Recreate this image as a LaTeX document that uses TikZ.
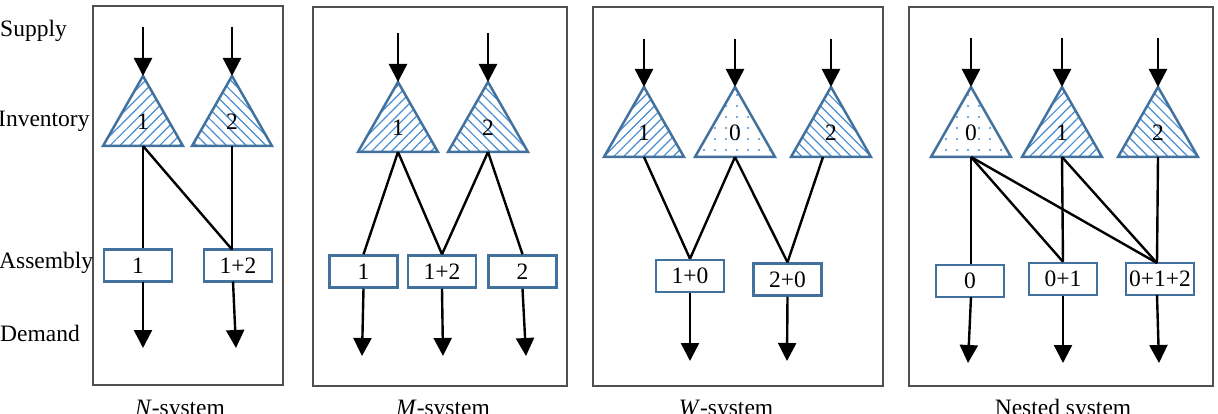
\documentclass[tikz,border=0pt]{standalone}
\usepackage{fontspec}
\setmainfont{Liberation Serif}
\usetikzlibrary{arrows.meta,patterns.meta,calc}
\definecolor{triblue}{RGB}{65,113,156}
\definecolor{hatch}{RGB}{70,140,210}
\definecolor{panelgray}{RGB}{80,80,80}
\tikzset{
  panel/.style={draw=panelgray,line width=1.4pt},
  flow/.style={line width=2.4pt,-{Triangle[length=18pt,width=18pt]}},
  link/.style={line width=2.4pt},
  asm/.style={draw=triblue,line width=2.5pt,fill=white,minimum width=68pt,minimum height=32pt,inner sep=0pt,font=\fontsize{23.5}{25}\selectfont},
  trilabel/.style={inner sep=0pt,font=\fontsize{23.5}{25}\selectfont},
  sidelabel/.style={anchor=west,inner sep=0pt,font=\fontsize{23.5}{25}\selectfont},
  syslabel/.style={anchor=base,inner sep=0pt,font=\fontsize{23.5}{25}\selectfont},
  pne/.style={pattern={Lines[angle=45,distance=7pt,line width=1.2pt]},pattern color=hatch},
  pnw/.style={pattern={Lines[angle=-45,distance=7pt,line width=1.2pt]},pattern color=hatch},
  pdot/.style={pattern={Dots[distance=11pt,radius=1.1pt]},pattern color=hatch},
}
% name, apex x, apex y, label, pattern style
\newcommand\InvTri[5]{%
  \coordinate (#1-top) at (#2,#3);
  \coordinate (#1-bot) at (#2,#3+70);
  \fill[#5] (#2,#3) -- ++(-40,70) -- ++(80,0) -- cycle;
  \draw[draw=triblue,line width=2.5pt,line join=miter] (#2,#3) -- ++(-40,70) -- ++(80,0) -- cycle;
  \node[trilabel] (#1) at (#2,#3+46) {#4};
}
\begin{document}
\begin{tikzpicture}[x=1pt,y=-1pt]
\useasboundingbox (0,0) rectangle (1218,414);
% panels
\draw[panel] (93,6) rectangle (283,385);
\draw[panel] (313,7) rectangle (567,386);
\draw[panel] (593,7) rectangle (883,386);
\draw[panel] (909,7) rectangle (1213,386);
% side labels
\node[sidelabel] (lsup) at (0,31) {Supply};
\node[sidelabel] (linv) at (-2,121) {Inventory};
\node[sidelabel] (lasm) at (-1,263) {Assembly};
\node[sidelabel] (ldem) at (0,333) {Demand};
% system labels
\node[syslabel] (sN) at (180,415) {\textit{N}-system};
\node[syslabel] (sM) at (443,415) {\textit{M}-system};
\node[syslabel] (sW) at (726,415) {\textit{W}-system};
\node[syslabel] (sX) at (1063,415) {Nested system};

% ---------- N-system ----------
\InvTri{na}{143}{76}{1}{pne}
\InvTri{nb}{232}{76}{2}{pnw}
\coordinate (na-in) at (143,27);
\coordinate (nb-in) at (232,27);
\draw[flow] (na-in) -- (na-top);
\draw[flow] (nb-in) -- (nb-top);
\node[asm] (n1) at (138,265.5) {1};
\node[asm] (n12) at (238,265.5) {1+2};
\draw[link] (na-bot) -- (na-bot |- n1.north);
\draw[link] (na-bot) -- (232,249.5);
\draw[link] (nb-bot) -- (232,249.5);
\coordinate (n1-out) at (143,348);
\coordinate (n12-out) at (236,348);
\draw[flow] (143,281.5) -- (n1-out);
\draw[flow] (233,281.5) -- (n12-out);

% ---------- M-system ----------
\InvTri{ma}{398}{82}{1}{pne}
\InvTri{mb}{488}{82}{2}{pnw}
\coordinate (ma-in) at (398,33);
\coordinate (mb-in) at (488,33);
\draw[flow] (ma-in) -- (ma-top);
\draw[flow] (mb-in) -- (mb-top);
\node[asm] (m1) at (363.5,271.5) {1};
\node[asm] (m12) at (442,271.5) {1+2};
\node[asm] (m2) at (522.5,271.5) {2};
\draw[link] (ma-bot) -- (m1.north);
\draw[link] (ma-bot) -- (m12.north);
\draw[link] (mb-bot) -- (m12.north);
\draw[link] (mb-bot) -- (m2.north);
\coordinate (m1-out) at (362,356);
\coordinate (m12-out) at (443,356);
\coordinate (m2-out) at (526,356);
\draw[flow] (m1.south) -- (m1-out);
\draw[flow] (m12.south) -- (m12-out);
\draw[flow] (m2.south) -- (m2-out);

% ---------- W-system ----------
\InvTri{wa}{644}{87}{1}{pne}
\InvTri{w0}{735}{87}{0}{pdot}
\InvTri{wb}{831}{87}{2}{pnw}
\coordinate (wa-in) at (644,39);
\coordinate (w0-in) at (735,39);
\coordinate (wb-in) at (831,39);
\draw[flow] (wa-in) -- (wa-top);
\draw[flow] (w0-in) -- (w0-top);
\draw[flow] (wb-in) -- (wb-top);
\node[asm] (w10) at (690,276) {1+0};
\node[asm] (w20) at (787.5,279.5) {2+0};
\draw[link] (wa-bot) -- (w10.north);
\draw[link] (w0-bot) -- (w10.north);
\draw[link] (w0-bot) -- (w20.north);
\draw[link] ($(wb-bot)+(-8,0)$) -- (w20.north);
\coordinate (w10-out) at (690,361);
\coordinate (w20-out) at (787,361);
\draw[flow] (w10.south) -- (w10-out);
\draw[flow] (w20.south) -- (w20-out);

% ---------- Nested system ----------
\InvTri{x0}{971}{87}{0}{pdot}
\InvTri{xa}{1062}{87}{1}{pne}
\InvTri{xb}{1158}{87}{2}{pnw}
\coordinate (x0-in) at (971,38);
\coordinate (xa-in) at (1062,38);
\coordinate (xb-in) at (1158,38);
\draw[flow] (x0-in) -- (x0-top);
\draw[flow] (xa-in) -- (xa-top);
\draw[flow] (xb-in) -- (xb-top);
\node[asm] (y0) at (970,281) {0};
\node[asm] (y01) at (1063,279) {0+1};
\node[asm] (y012) at (1160,279) {0+1+2};
\draw[link] (x0-bot) -- (x0-bot |- y0.north);
\draw[link] (x0-bot) -- (y01.north);
\draw[link] (x0-bot) -- (1157,263);
\draw[link] (xa-bot) -- (y01.north);
\draw[link] (xa-bot) -- (1157,263);
\draw[link] (xb-bot) -- (1157,263);
\coordinate (y0-out) at (968,363);
\coordinate (y01-out) at (1063,363);
\coordinate (y012-out) at (1159,363);
\draw[flow] (971,297) -- (y0-out);
\draw[flow] (y01.south) -- (y01-out);
\draw[flow] (1157,295) -- (y012-out);
\end{tikzpicture}
\end{document}
